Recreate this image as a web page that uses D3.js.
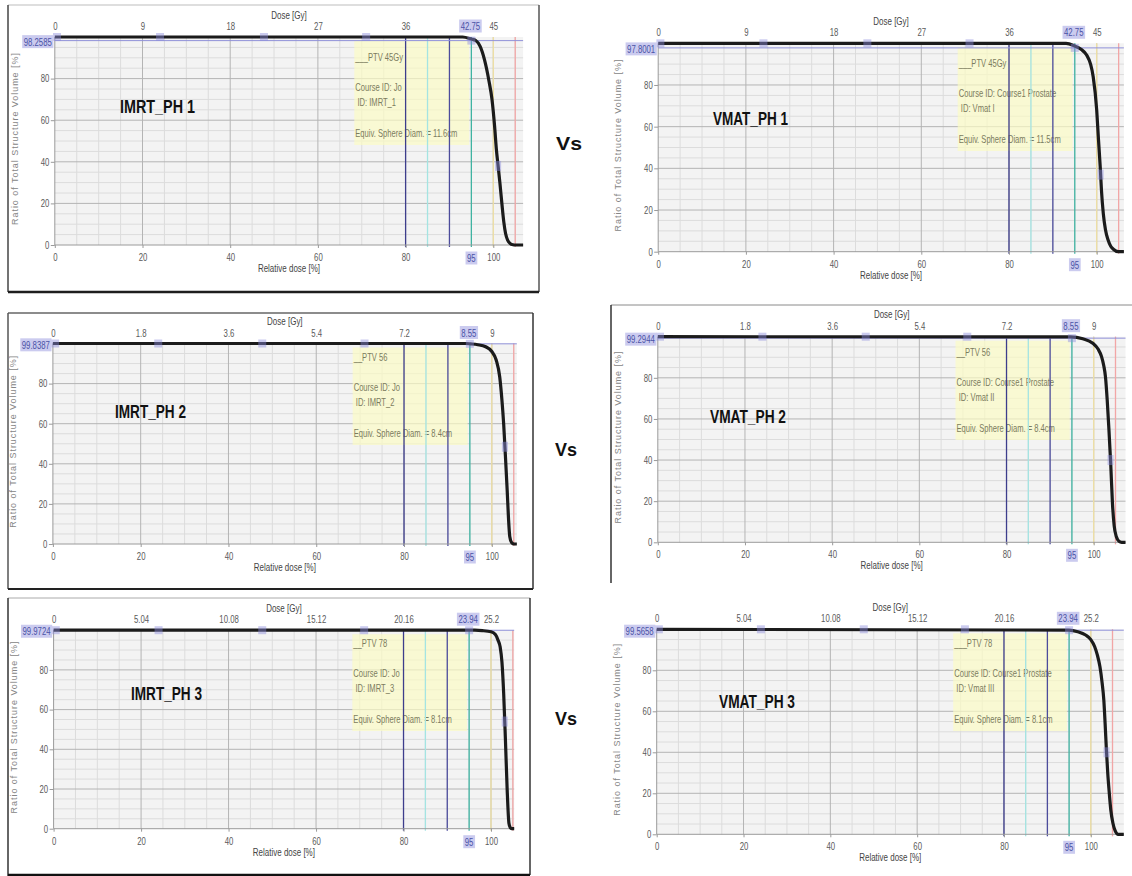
<!DOCTYPE html>
<html>
<head>
<meta charset="utf-8">
<script src="https://cdn.jsdelivr.net/npm/d3@7"></script>
<style>
  body { margin: 0; background: #fff; }
</style>
</head>
<body>
<svg id="chart" width="1132" height="876"></svg>
<script>
// ---------- data ----------
const planNames = ["IMRT_PH 1", "IMRT_PH 2", "IMRT_PH 3", "VMAT_PH 1", "VMAT_PH 2", "VMAT_PH 3"];
const structureNames = ["___PTV 45Gy", "__PTV 56", "__PTV 78", "___PTV 45Gy", "__PTV 56", "___PTV 78"];
const courseIds = ["Course ID: Jo", "Course ID: Jo", "Course ID: Jo",
                   "Course ID: Course1 Prostate", "Course ID: Course1 Prostate", "Course ID: Course1 Prostate"];
const planIds = [" ID: IMRT_1", " ID: IMRT_2", " ID: IMRT_3", " ID: Vmat I", " ID: Vmat II", " ID: Vmat III"];
const sphereDiams = ["Equiv. Sphere Diam. = 11.6cm", "Equiv. Sphere Diam. = 8.4cm", "Equiv. Sphere Diam. = 8.1cm",
                     "Equiv. Sphere Diam. = 11.5cm", "Equiv. Sphere Diam. = 8.4cm", "Equiv. Sphere Diam. = 8.1cm"];

const relDoseTicks = [0, 20, 40, 60, 80, 100];
const volumeTicks = [0, 20, 40, 60, 80];
const doseTickLabels = [
  ["0", "9", "18", "27", "36", "45"],
  ["0", "1.8", "3.6", "5.4", "7.2", "9"],
  ["0", "5.04", "10.08", "15.12", "20.16", "25.2"],
  ["0", "9", "18", "27", "36", "45"],
  ["0", "1.8", "3.6", "5.4", "7.2", "9"],
  ["0", "5.04", "10.08", "15.12", "20.16", "25.2"]
];

const cursorRel = 95;
const cursorDoseLabels = ["42.75", "8.55", "23.94", "42.75", "8.55", "23.94"];
const cursorVolumeLabels = ["98.2585", "99.8387", "99.9724", "97.8001", "99.2944", "99.5658"];

const isodoseLevels = [80, 85, 90, 95, 100, 105];
const handleRel = [0.5, 24, 47.7, 71];
const markerVolumes = [38, 48.5, 54, 37, 40, 40];

// cumulative DVH: [relative dose %, volume %]
const dvhIMRT1 = [[0,100],[93,100],[95,99],[96,98.3],[97,95.5],[98,89],[99,79],[99.7,70],[100.3,57],[100.7,46],
                  [101.1,38],[101.5,30],[102,19],[102.4,11],[102.8,5.5],[103.3,2.2],[103.8,0.8],[104.5,0.1],[105,0],[106.8,0]];
const dvhIMRT2 = [[0,100],[94,100],[95.2,99.8],[96.8,99.4],[98.6,98.4],[100,96],[101,91.8],[101.8,83.4],[102.3,72],
                  [102.7,60],[103.1,44],[103.5,27],[103.8,13],[104.1,3.6],[104.5,0.8],[105.1,0],[105.7,0]];
const dvhIMRT3 = [[0,100],[96.3,100],[98,99.8],[100,99.2],[101,97.8],[101.6,95],[102.1,91.5],[102.5,84],[102.9,68],
                  [103.3,44.7],[103.7,19.5],[104.1,2.7],[104.4,0.5],[104.7,0],[105.3,0]];
const dvhVMAT1 = [[0,100],[93,100],[94.9,98.8],[96.5,97],[97.7,94.4],[98.6,90],[99.2,84],[100,68],[100.4,54],[100.8,40.8],
                  [101.1,29],[101.5,18.4],[102,10.5],[102.6,5.6],[103.2,2.6],[103.8,1.2],[104.9,0],[106.2,0]];
const dvhVMAT2 = [[0,100],[94.7,99.9],[97.5,99],[99.8,96.8],[101,94],[101.8,90.3],[102.3,86],[102.7,80.5],[103.1,69.2],
                  [103.5,54.6],[103.9,38.4],[104.3,19],[104.7,8],[105.2,2.7],[105.8,0.5],[106.4,0],[107.3,0]];
const dvhVMAT3 = [[0,100],[95,99.6],[97,98.8],[98.8,97.2],[100,95],[100.9,91.5],[101.5,87.5],[102.1,81.8],[102.6,74],
                  [103,65.5],[103.3,54],[103.6,41],[103.9,30],[104.2,21.6],[104.6,12],[105.1,5.4],[105.6,1.8],[106.3,0],[107.6,0]];
const dvhSeries = [dvhIMRT1, dvhIMRT2, dvhIMRT3, dvhVMAT1, dvhVMAT2, dvhVMAT3];

// ---------- layout (pixel geometry of each panel) ----------
const layout = [
  { x0: 54.8, x100: 493.3, xMax: 106.8, yTop: 37,    yBot: 245,   title: [120, 113, 75], legendY: 57 },
  { x0: 52.9, x100: 491.8, xMax: 105.7, yTop: 343.5, yBot: 544,   title: [115, 418, 71], legendY: 357 },
  { x0: 53.6, x100: 491.0, xMax: 105.3, yTop: 630.2, yBot: 828.7, title: [131, 700, 71], legendY: 643 },
  { x0: 658.2, x100: 1096.7, xMax: 106.2, yTop: 43.3, yBot: 251.7, title: [713, 125, 75], legendY: 63 },
  { x0: 657.8, x100: 1093.7, xMax: 107.3, yTop: 336.7, yBot: 542.3, title: [710, 423, 76], legendY: 352 },
  { x0: 656.7, x100: 1090.8, xMax: 107.6, yTop: 629.3, yBot: 834.3, title: [719, 708, 76], legendY: 643 }
];
const legendSteps = [0, 30, 45, 76];
const isodoseColors = ["#3d3d8c", "#a4e4e2", "#4c4c9c", "#3fb3a2", "#efe0a4", "#f2a6a6"];

const SANS = "'Liberation Sans',Arial,sans-serif";

const svg = d3.select("#chart");
svg.append("rect").attr("width", 1132).attr("height", 876).attr("fill", "#fff");

// squeeze text horizontally (the original uses a narrow UI font)
function condense(sel, f) {
  sel.each(function () {
    const w = this.getComputedTextLength();
    if (w > 0) d3.select(this).attr("textLength", w * f).attr("lengthAdjust", "spacingAndGlyphs");
  });
}

// window frames around some panels
function frameLine(x1, y1, x2, y2, color, w) {
  svg.append("line").attr("x1", x1).attr("y1", y1).attr("x2", x2).attr("y2", y2)
    .attr("stroke", color).attr("stroke-width", w);
}
frameLine(8, 5, 539, 5, "#bdbdbd", 1);
frameLine(8, 5, 8, 292, "#444", 1.5);
frameLine(539, 5, 539, 292, "#555", 1.5);
frameLine(8, 292, 539, 292, "#1e1e1e", 2.5);
frameLine(8, 313, 533, 313, "#666", 1.5);
frameLine(8, 313, 8, 589, "#555", 1.5);
frameLine(533, 313, 533, 589, "#333", 1.5);
frameLine(8, 589, 533, 589, "#222", 2);
frameLine(8, 598, 530, 598, "#aaa", 1);
frameLine(8, 598, 8, 876, "#333", 1.5);
frameLine(530, 598, 530, 875, "#333", 1.5);
frameLine(8, 875, 530, 875, "#111", 2.5);
frameLine(611, 305, 1132, 305, "#8a8a8a", 1);
frameLine(611, 305, 611, 583, "#333", 1.5);

function volumeToRel(data, v) {
  for (let i = 1; i < data.length; i++) {
    const a = data[i - 1], b = data[i];
    if (a[1] >= v && b[1] <= v && a[1] !== b[1]) {
      return a[0] + (a[1] - v) / (a[1] - b[1]) * (b[0] - a[0]);
    }
  }
  return data[data.length - 1][0];
}

function highlightLabel(g, text, x, y, anchor) {
  const t = g.append("text").attr("x", x).attr("y", y).attr("text-anchor", anchor)
    .attr("dominant-baseline", "central")
    .style("font-family", SANS).style("font-size", "10.5px").attr("fill", "#4a52a6").text(text);
  condense(t, 0.74);
  const bb = t.node().getBBox();
  g.insert("rect", () => t.node())
    .attr("x", bb.x - 1.5).attr("y", bb.y - 0.5).attr("width", bb.width + 3).attr("height", bb.height + 1)
    .attr("fill", "#cbcbef");
}

function drawPanel(p) {
  const L = layout[p];
  const data = dvhSeries[p];
  const x = d3.scaleLinear().domain([0, L.xMax])
    .range([L.x0, L.x0 + (L.x100 - L.x0) * L.xMax / 100]);
  const y = d3.scaleLinear().domain([0, 100]).range([L.yBot, L.yTop]);
  const [xa, xb] = x.range();
  const g = svg.append("g");

  // plot background
  g.append("rect").attr("x", xa).attr("y", L.yTop).attr("width", xb - xa).attr("height", L.yBot - L.yTop)
    .attr("fill", "#f3f3f3");

  // grid
  const minorX = d3.range(5, L.xMax, 5).filter(v => v % 20 !== 0);
  const minorY = d3.range(5, 100, 5).filter(v => v % 20 !== 0);
  g.selectAll(".mx").data(minorX).join("line")
    .attr("x1", d => x(d)).attr("x2", d => x(d)).attr("y1", L.yTop).attr("y2", L.yBot)
    .attr("stroke", "#dcdcdc").attr("stroke-width", 1);
  g.selectAll(".my").data(minorY).join("line")
    .attr("x1", xa).attr("x2", xb).attr("y1", d => y(d)).attr("y2", d => y(d))
    .attr("stroke", "#dcdcdc").attr("stroke-width", 1);
  g.selectAll(".Mx").data([20, 40, 60, 80, 100]).join("line")
    .attr("x1", d => x(d)).attr("x2", d => x(d)).attr("y1", L.yTop).attr("y2", L.yBot)
    .attr("stroke", "#b4b4b4").attr("stroke-width", 1);
  g.selectAll(".My").data([20, 40, 60, 80]).join("line")
    .attr("x1", xa).attr("x2", xb).attr("y1", d => y(d)).attr("y2", d => y(d))
    .attr("stroke", "#b4b4b4").attr("stroke-width", 1);

  // legend box
  const legendLeft = x(68.3);
  g.append("rect").attr("x", legendLeft).attr("y", L.yTop + 4)
    .attr("width", x(94.5) - legendLeft).attr("height", L.legendY + legendSteps[3] + 12 - (L.yTop + 4))
    .attr("fill", "#fbfbc4").attr("opacity", 0.7);
  const legendLines = [structureNames[p], courseIds[p], planIds[p], sphereDiams[p]];
  g.selectAll(".leg").data(legendLines).join("text")
    .attr("x", legendLeft + 1).attr("y", (d, i) => L.legendY + legendSteps[i])
    .attr("dominant-baseline", "central").attr("xml:space", "preserve")
    .style("font-family", SANS).style("font-size", "11.5px").attr("fill", "#7c7c5e")
    .text(d => d)
    .call(condense, 0.66);

  // isodose reference lines
  g.selectAll(".iso").data(isodoseLevels).join("line")
    .attr("x1", d => x(d)).attr("x2", d => x(d)).attr("y1", L.yTop).attr("y2", L.yBot + 2)
    .attr("stroke", (d, i) => isodoseColors[i]).attr("stroke-width", 1.3);

  // axes lines
  g.append("line").attr("x1", xa).attr("x2", xa).attr("y1", L.yTop).attr("y2", L.yBot)
    .attr("stroke", "#9a9a9a");
  g.append("line").attr("x1", xa).attr("x2", xb).attr("y1", L.yBot).attr("y2", L.yBot)
    .attr("stroke", "#9a9a9a");

  // cursor line
  const cursorVol = +cursorVolumeLabels[p];
  g.append("line").attr("x1", xa).attr("x2", xb).attr("y1", y(cursorVol)).attr("y2", y(cursorVol))
    .attr("stroke", "#8f90d8").attr("stroke-width", 1);

  // DVH curve
  const line = d3.line().x(d => x(d[0])).y(d => y(d[1])).curve(d3.curveMonotoneX);
  g.append("path").datum(data).attr("d", line)
    .attr("fill", "none").attr("stroke", "#1b1b1b").attr("stroke-width", 3.2).attr("stroke-linejoin", "round");

  // handles
  const handles = handleRel.map(r => [r, 100]).concat([[cursorRel, cursorVol]]);
  g.selectAll(".hd").data(handles).join("rect")
    .attr("x", d => x(d[0]) - 4).attr("y", d => y(d[1]) - 4).attr("width", 8).attr("height", 8)
    .attr("fill", "#8c8cdc").attr("opacity", 0.45);
  const mv = markerVolumes[p];
  g.append("rect").attr("x", x(volumeToRel(data, mv)) - 3).attr("y", y(mv) - 5).attr("width", 6).attr("height", 10)
    .attr("fill", "#8c8cdc").attr("opacity", 0.45);

  // axes with labels
  const tickStyle = sel => {
    sel.select(".domain").remove();
    sel.selectAll("text").style("font-family", SANS).style("font-size", "10.5px").attr("fill", "#5a5a5a")
      .call(condense, 0.74);
    sel.selectAll("line").attr("stroke", "#9a9a9a");
  };
  g.append("g").attr("transform", `translate(0,${L.yBot})`)
    .call(d3.axisBottom(x).tickValues(relDoseTicks).tickFormat(d3.format("d")).tickSize(3).tickPadding(5.5))
    .call(tickStyle);
  g.append("g").attr("transform", `translate(${xa},0)`)
    .call(d3.axisLeft(y).tickValues(volumeTicks).tickSize(4).tickPadding(1.5))
    .call(tickStyle);
  g.append("g").attr("transform", `translate(0,${L.yTop})`)
    .call(d3.axisTop(x).tickValues(relDoseTicks).tickFormat((d, i) => doseTickLabels[p][i]).tickSize(0).tickPadding(7))
    .call(tickStyle);

  // highlighted cursor readouts
  highlightLabel(g, cursorVolumeLabels[p], xa - 3, y(cursorVol) + 1, "end");
  highlightLabel(g, cursorDoseLabels[p], x(cursorRel) - 1, L.yTop - 11, "middle");
  highlightLabel(g, String(cursorRel), x(cursorRel), L.yBot + 13, "middle");

  // axis titles
  const cx = (xa + xb) / 2;
  g.append("text").attr("x", cx).attr("y", L.yTop - 22.5).attr("text-anchor", "middle")
    .attr("dominant-baseline", "central")
    .style("font-family", SANS).style("font-size", "10.5px").attr("fill", "#444").text("Dose [Gy]")
    .call(condense, 0.76);
  g.append("text").attr("x", cx).attr("y", L.yBot + 23).attr("text-anchor", "middle")
    .attr("dominant-baseline", "central")
    .style("font-family", SANS).style("font-size", "10.5px").attr("fill", "#444").text("Relative dose [%]")
    .call(condense, 0.76);
  const cy = (L.yTop + L.yBot) / 2 - 2;
  g.append("text").attr("transform", `translate(${xa - 40},${cy}) rotate(-90)`)
    .attr("text-anchor", "middle").attr("dominant-baseline", "central")
    .attr("textLength", 172).attr("lengthAdjust", "spacing")
    .style("font-family", SANS).style("font-size", "9px").attr("fill", "#858585")
    .text("Ratio of Total Structure Volume [%]");

  // plan title
  g.append("text").attr("x", L.title[0]).attr("y", L.title[1])
    .attr("textLength", L.title[2]).attr("lengthAdjust", "spacingAndGlyphs")
    .style("font-family", SANS).style("font-weight", "bold").style("font-size", "18px").attr("fill", "#111")
    .text(planNames[p]);
}

d3.range(6).forEach(drawPanel);

// "Vs" between columns
const vsLabels = ["Vs", "Vs", "Vs"];
const vsPos = [[556, 150, 26], [555, 456, 22], [555, 725, 22]];
svg.selectAll(".vs").data(vsLabels).join("text")
  .attr("x", (d, i) => vsPos[i][0]).attr("y", (d, i) => vsPos[i][1])
  .attr("textLength", (d, i) => vsPos[i][2]).attr("lengthAdjust", "spacingAndGlyphs")
  .style("font-family", SANS).style("font-weight", "bold").style("font-size", "19px").attr("fill", "#111")
  .text(d => d);
</script>
</body>
</html>
